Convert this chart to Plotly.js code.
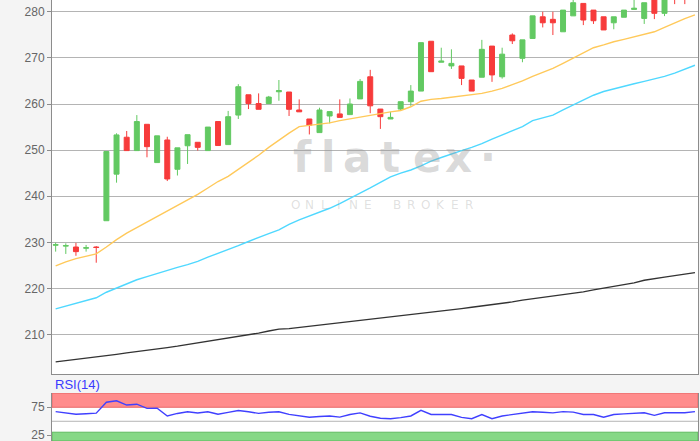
<!DOCTYPE html>
<html><head><meta charset="utf-8">
<script src="https://cdn.plot.ly/plotly-3.0.1.min.js"></script>
<style>html,body{margin:0;padding:0;background:#f4f4f4}#chart{width:700px;height:441px}</style>
</head><body><div id="chart"></div>
<script>
// ---- data ----
const session = [0,1,2,3,4,5,6,7,8,9,10,11,12,13,14,15,16,17,18,19,20,21,22,23,24,25,26,27,28,29,30,31,32,33,34,35,36,37,38,39,40,41,42,43,44,45,46,47,48,49,50,51,52,53,54,55,56,57,58,59,60,61,62,63];
const open = [229.4,229.2,229.0,228.75,229.0,234.7,244.8,252.8,249.9,255.6, 247.3,252.2,245.85,250.95,251.7,249.9,256.2,251.2,257.6,262.0, 260.1,260.1,262.65,262.6,258.7,256.75,253.8,257.4,257.85,257.7, 261.1,265.9,258.9,256.75,258.9,260.5,262.8,273.6,269.05,268.25, 268.25,265.2,265.8,272.55,265.9,274.95,269.9,274.2,278.9,278.35, 275.65,279.1,281.8,280.35,278.9,277.6,278.8,280.5,278.55,283.0, 279.65,284.0,284.2,283.4];
const high = [229.95,229.8,229.9,229.45,229.2,249.7,253.65,254.15,257.6,255.6, 253.1,252.9,250.5,253.35,251.7,255.0,256.2,258.5,264.3,262.0, 262.3,261.75,265.2,262.6,261.0,256.75,259.2,258.35,261.0,261.2, 265.4,267.4,258.9,258.3,260.5,264.1,273.3,273.6,272.2,271.85, 268.25,265.2,273.9,272.55,272.2,275.3,273.9,279.1,280.0,280.0, 280.35,283.2,281.8,280.35,278.9,278.9,280.35,283.0,281.95,283.4, 283.5,284.3,284.6,285.0];
const low = [228.0,227.5,227.1,228.0,225.6,234.7,242.95,249.9,249.9,248.45, 247.3,243.3,244.5,247.0,249.9,249.9,251.0,251.2,256.75,258.9, 258.85,260.1,260.7,257.4,258.3,253.4,253.8,255.8,257.1,257.7, 261.1,258.0,254.6,256.75,258.5,259.6,262.8,267.0,269.05,267.6, 264.1,262.8,265.8,264.8,265.5,273.0,269.05,274.2,276.6,274.95, 275.65,279.1,277.1,277.35,276.05,276.2,278.8,280.5,277.35,278.4, 279.05,281.65,281.65,283.0];
const close = [229.5,229.3,228.0,228.85,228.9,249.7,253.3,249.9,256.2,250.75, 253.1,243.75,250.5,253.35,250.6,255.0,251.0,257.25,263.75,260.1, 258.85,261.5,262.9,258.85,258.3,255.4,258.7,258.35,257.1,260.0, 264.9,259.6,257.25,257.1,260.5,262.8,273.3,267.0,269.3,268.8, 265.55,262.8,271.85,266.3,270.8,273.7,273.9,279.1,277.6,277.6, 280.35,281.95,278.2,278.05,276.05,278.9,280.35,280.75,281.95,279.65, 283.1,283.0,283.3,284.5];
const maShort = [224.9,225.8,226.5,227.0,227.5,229.0,230.6,232.0,233.2,234.4, 235.6,236.7,238.0,239.1,240.4,241.8,243.2,244.3,245.8,247.4, 248.9,250.6,252.2,253.7,255.1,255.4,255.6,255.9,256.4,256.8, 257.1,257.6,258.0,258.3,258.6,259.4,260.6,261.0,261.2,261.45, 261.7,262.0,262.3,262.8,263.4,264.2,265.0,266.0,266.9,267.7, 268.8,269.9,271.0,272.2,272.8,273.5,274.0,274.6,275.1,275.65, 276.6,277.6,278.5,279.3];
const maMid = [215.6,216.2,216.8,217.3,218.0,219.2,220.1,221.0,221.9,222.6, 223.3,224.0,224.6,225.2,225.9,226.8,227.6,228.4,229.3,230.2, 231.1,231.9,232.7,233.9,234.9,235.7,236.5,237.4,238.4,239.5, 240.7,241.8,243.0,244.2,245.0,245.7,246.6,247.6,248.4,249.2, 249.9,250.6,251.4,252.4,253.3,254.2,255.1,256.4,257.0,257.6, 258.7,259.8,260.9,261.9,262.7,263.3,263.9,264.4,264.9,265.4, 266.0,266.7,267.5,268.4];
const maLong = [204.1,204.35,204.6,204.9,205.2,205.5,205.75,206.05,206.3,206.6, 206.9,207.2,207.5,207.85,208.2,208.5,208.85,209.2,209.6,210.0, 210.35,210.8,211.2,211.3,211.55,211.8,212.05,212.35,212.6,212.9, 213.15,213.35,213.6,213.75,214.0,214.3,214.55,214.8,215.1,215.4, 215.65,215.95,216.2,216.45,216.75,217.1,217.5,217.8,218.1,218.35, 218.6,218.95,219.3,219.7,220.05,220.4,220.8,221.25,221.8,222.2, 222.5,222.8,223.1,223.45];
const rsi14 = [67.2,65.0,62.5,63.5,64.6,84.0,86.5,79.0,80.5,73.0, 73.2,59.5,64.0,67.0,64.8,67.0,62.5,66.0,69.3,67.0, 64.2,66.0,67.0,62.4,60.0,57.2,58.5,59.5,57.4,62.2, 65.0,59.0,55.5,54.4,56.5,59.5,69.5,62.2,62.2,62.0, 57.0,54.6,62.0,54.6,59.5,62.0,63.4,67.0,66.0,65.0, 67.2,66.4,62.2,62.2,57.3,62.2,63.2,64.0,65.3,60.5, 65.3,65.3,65.3,67.2];
const priceTicks = [210,220,230,240,250,260,270,280];
const rsiTicks = [25,75];
const rsiLabel = 'RSI(14)';
const watermark = 'flatex·';
const watermarkSub = 'ONLINE BROKER';

// ---- styling ----
const FONT = 'Liberation Sans, Arial, sans-serif';
const GREEN = '#62c962', RED = '#f73b3b';
const AX = '#8c8c8c', GRID = '#b4b4b4';
const H = 441, PL = 52, PW = 646;
const xRange = [-0.36, 63.3];

const traces = [
  {type:'candlestick', x:session, open:open, high:high, low:low, close:close,
   xaxis:'x', yaxis:'y', hoverinfo:'skip',
   increasing:{line:{color:GREEN,width:1}, fillcolor:GREEN},
   decreasing:{line:{color:RED,width:1}, fillcolor:RED}},
  {type:'scatter', mode:'lines', x:session, y:maLong, line:{color:'#333333',width:1.3}, xaxis:'x', yaxis:'y', hoverinfo:'skip'},
  {type:'scatter', mode:'lines', x:session, y:maMid, line:{color:'#4fd8ff',width:1.4}, xaxis:'x', yaxis:'y', hoverinfo:'skip'},
  {type:'scatter', mode:'lines', x:session, y:maShort, line:{color:'#ffc95a',width:1.4}, xaxis:'x', yaxis:'y', hoverinfo:'skip'},
  {type:'scatter', mode:'lines', x:session, y:rsi14, line:{color:'#4040ff',width:1.4}, xaxis:'x2', yaxis:'y2', hoverinfo:'skip'}
];

const shapes = [
  {type:'rect', layer:'below', xref:'paper', yref:'y2', x0:0, x1:1, y0:75, y1:100.3, fillcolor:'#ff8c8c', line:{color:'#e86a6a',width:1}},
  {type:'rect', layer:'below', xref:'paper', yref:'y2', x0:0, x1:1, y0:14.8, y1:30.5, fillcolor:'#86d886', line:{color:'#5fba5f',width:1}},
  {type:'line', layer:'below', xref:'paper', yref:'y2', x0:0, x1:1, y0:50, y1:50, line:{color:GRID,width:1}}
];

const annotations = [{text:rsiLabel, xref:'paper', yref:'paper', x:0.0015, y:1-384.5/H, xanchor:'left', yanchor:'middle',
    showarrow:false, font:{family:FONT, size:13, color:'#3a3aff'}}];
// watermark letters (decoration, semi-transparent so lines show through)
const wmPos = [302, 328, 357, 390, 428, 459, 488];
watermark.split('').forEach((ch, i) => {
  annotations.push({text:'<b>' + ch + '</b>', xref:'paper', yref:'paper', x:(wmPos[i]-PL)/PW, y:1-157/H,
    xanchor:'center', yanchor:'middle', showarrow:false,
    font:{family:'DejaVu Sans, sans-serif', size:42, color:'rgba(150,150,150,0.36)'}});
});
watermarkSub.split('').forEach((ch, i) => {
  if (ch === ' ') return;
  annotations.push({text:ch, xref:'paper', yref:'paper', x:(295 + 14.5*i - PL)/PW, y:1-205.5/H,
    xanchor:'center', yanchor:'middle', showarrow:false,
    font:{family:'DejaVu Sans, sans-serif', size:12, color:'rgba(150,150,150,0.3)'}});
});

const tickfont = {family:FONT, size:12, color:'#666666'};
const layout = {
  width:700, height:H,
  margin:{l:PL, r:2, t:0, b:0},
  paper_bgcolor:'#f4f4f4', plot_bgcolor:'#ffffff',
  showlegend:false, hovermode:false,
  xaxis:{domain:[0,1], anchor:'y', range:xRange, showticklabels:false, ticks:'', showgrid:false, zeroline:false,
         showline:true, linecolor:AX, linewidth:1, rangeslider:{visible:false}, fixedrange:true},
  yaxis:{domain:[1-374/H,1], anchor:'x', range:[201.48,282.54], tickvals:priceTicks, ticktext:priceTicks.map(String),
         showgrid:true, gridcolor:GRID, gridwidth:1, zeroline:false, showline:true, linecolor:AX, linewidth:1, mirror:true,
         ticks:'outside', ticklen:4, tickcolor:AX, tickfont:tickfont, ticklabeloverflow:'allow', fixedrange:true},
  xaxis2:{domain:[0,1], anchor:'y2', range:xRange, showticklabels:false, ticks:'', showgrid:false, zeroline:false,
          showline:false, rangeslider:{visible:false}, fixedrange:true},
  yaxis2:{domain:[0,48/H], anchor:'x2', range:[14.8,100.5], tickvals:rsiTicks, ticktext:rsiTicks.map(String),
          showgrid:false, zeroline:false, showline:true, linecolor:AX, linewidth:1, mirror:true,
          ticks:'outside', ticklen:4, tickcolor:AX, tickfont:tickfont, ticklabeloverflow:'allow', fixedrange:true},
  shapes:shapes,
  annotations:annotations
};
Plotly.newPlot('chart', traces, layout, {displayModeBar:false, staticPlot:true});
</script></body></html>
